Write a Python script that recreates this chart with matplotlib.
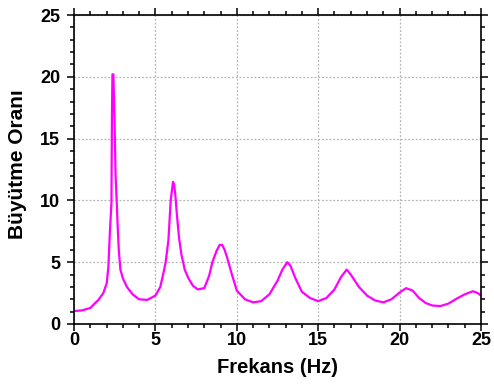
import matplotlib
matplotlib.use("Agg")
import matplotlib.pyplot as plt
from matplotlib.ticker import MultipleLocator

matplotlib.rcParams.update({"font.family": "Liberation Sans", "font.weight": "bold"})

# frequency (Hz) and amplification ratio
freq = [0, 0.5, 1.0, 1.5, 1.8, 2.01, 2.11, 2.21, 2.3, 2.33, 2.36, 2.42, 2.46, 2.5, 2.55,
        2.62, 2.68, 2.75, 2.85, 3.0, 3.25, 3.6, 4.0, 4.5, 5.0, 5.3, 5.49, 5.63, 5.8, 5.94,
        6.08, 6.15, 6.22, 6.31, 6.45, 6.6, 6.8, 7.03, 7.3, 7.6, 8.0, 8.3, 8.5, 8.75,
        8.95, 9.1, 9.25, 9.4, 9.7, 10.0, 10.5, 11.0, 11.5, 12.0, 12.5, 12.8, 13.1, 13.3,
        13.6, 14.0, 14.5, 15.0, 15.5, 16.0, 16.4, 16.75, 17.0, 17.5, 18.0, 18.5, 19.0,
        19.5, 20.0, 20.4, 20.8, 21.2, 21.6, 22.0, 22.5, 23.0, 23.5, 24.0, 24.5, 24.8, 25.0]
ratio = [1.05, 1.1, 1.3, 1.95, 2.5, 3.3, 4.6, 7.6, 9.8, 16.6, 20.2, 20.2, 18.0, 15.8, 12.2,
         10.0, 8.0, 6.0, 4.4, 3.7, 3.0, 2.4, 2.0, 1.95, 2.3, 3.0, 4.1, 5.0, 6.8, 10.0,
         11.5, 11.3, 10.5, 9.0, 7.0, 5.6, 4.4, 3.7, 3.1, 2.8, 2.9, 3.9, 5.0, 5.9,
         6.4, 6.4, 6.0, 5.4, 4.0, 2.7, 2.0, 1.75, 1.85, 2.4, 3.5, 4.4, 5.0, 4.7,
         3.7, 2.6, 2.1, 1.85, 2.1, 2.8, 3.8, 4.4, 4.0, 3.0, 2.3, 1.9, 1.75,
         2.0, 2.55, 2.9, 2.7, 2.1, 1.7, 1.5, 1.45, 1.65, 2.05, 2.4, 2.65, 2.5, 2.3]

fig = plt.figure(figsize=(4.94, 3.87), dpi=100)
ax = fig.add_axes([0.1498, 0.1628, 0.8239, 0.7984])

ax.plot(freq, ratio, color="#ff00ff", linewidth=1.6)

ax.set_xlim(0, 25)
ax.set_ylim(0, 25)
ax.xaxis.set_major_locator(MultipleLocator(5))
ax.yaxis.set_major_locator(MultipleLocator(5))
ax.xaxis.set_minor_locator(MultipleLocator(1))
ax.yaxis.set_minor_locator(MultipleLocator(1))
ax.tick_params(which="both", direction="out", top=True, right=True, width=1.1,
               labelsize=13, colors="black")
ax.tick_params(which="major", length=5, pad=1)
ax.tick_params(axis="y", which="major", pad=5)
ax.tick_params(which="minor", length=3)
for s in ax.spines.values():
    s.set_linewidth(1.2)

ax.grid(True, which="major", color="#b4b4b4", linestyle=(0, (1.5, 1.5)), linewidth=0.9)

ax.set_xlabel("Frekans (Hz)", fontsize=14.5, fontweight="bold", labelpad=6)
ax.set_ylabel("Büyütme Oranı", fontsize=15, fontweight="bold")
ax.yaxis.set_label_coords(-0.115, 0.518)

fig.savefig("out.png", dpi=100)
